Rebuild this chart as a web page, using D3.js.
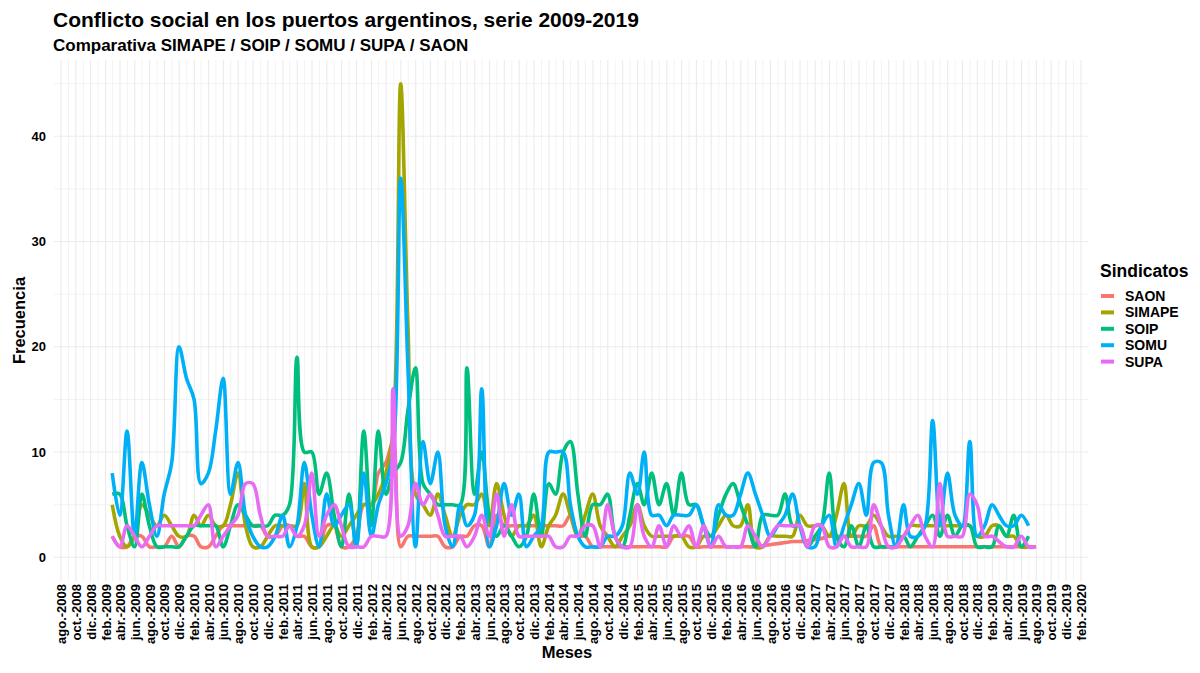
<!DOCTYPE html>
<html>
<head>
<meta charset="utf-8">
<script src="https://cdn.jsdelivr.net/npm/d3@7"></script>
<style>
  body { margin: 0; background: #fff; }
  text { font-family: "Liberation Sans", Arial, sans-serif; }
</style>
</head>
<body>
<div id="chart"></div>
<script>
// monthly counts, feb-2009 .. jul-2019 (null = no data)
var first_month = [2009, 1];

var saon = [2,1,1,2,2,1,1,1,2,1, 2,2,1,1,2,3,3,3,3,3, 3,2,2,3,3,2,2,1,1,3,
  3,1,1,2,5,5,8,9,11,1, 2,2,2,2,2,1,1,2,2,3, 3,1,4,3,3,3,3,3,3,3,
  3,3,4,2,2,1,1,1,1,1, 1,1,1,1,1,1,2,2,2,1, 1,1,1,1,1,1,1,1,1.1,1.2,
  1.3,1.4,1.5,1.5,1.6,1.7,1.8,2,2,2, 2,2,2,3,1,1,1,1,1,1, 1,1,1,1,1,1,1,1,1,1,
  1,1,1,1,1,1];
var simape = [5,2,1,2,5,4,3,4,3,2, 2,4,3,4,3,3,5,8,3,1, 1,2,3,3,3,3,7,1,1,2,
  3,2,3,4,5,5,6,8,12,45, 22,6,5,4,6,4,2,4,5,5, 6,3,7,4,2,3,3,4,1,3,
  4,6,4,2,4,6,3,2,1,2, 3,5,3,2,2,2,2,2,1,1, 2,2,3,4,3,3,5,1,1,2,
  2,2,2,4,3,3,3,2,4,7, 2,3,3,4,3,2,2,2,3,3, 3,3,3,3,3,3,3,2,2,3,
  3,2,2,1,1,null];
var soip = [6,6,3,1,6,3,1,1,1,1, 2,3,3,3,3,1,3,5,4,3, 3,3,4,4,5,19,10,10,6,8,
  4,1,6,1,12,3,12,6,8,9, 14,18,7,6,5,5,5,5,18,6, 10,4,2,3,2,1,2,6,2,7,
  6,10,11,6,2,5,5,6,2,1, 4,7,5,8,5,7,4,8,5,5, 3,2,4,6,7,5,3,1,4,4,
  4,6,3,3,1,2,3,8,2,1, 3,1,3,1,1,1,1,2,1,2, 3,4,2,4,2,3,3,1,1,1,
  3,2,4,1,2,null];
var somu = [8,4,12,2,9,5,2,6,9,20, 17,15,7,8,12,17,6,9,4,2, 1,1,2,4,1,3,9,4,1,6,
  3,4,5,1,8,2,5,7,10,36, 18,1,11,7,10,3,1,5,3,4, 16,1,3,7,4,6,1,2,3,10,
  10,10,5,2,1,1,1,2,2,3, 8,6,10,4,4,3,4,4,4,5, 3,1,5,4,4,6,8,6,4,2,
  3,4,6,3,1,1,3,4,1,3, 5,7,4,9,9,4,1,5,2,2, 3,13,3,8,4,3,11,2,3,5,
  4,3,3,4,3,null];
var supa = [2,1,3,2,1,2,3,3,3,3, 3,3,4,5,1,2,3,4,7,7, 4,2,2,2,3,2,3,8,2,4,
  5,3,1,1,1,2,2,2,16,2, 3,7,5,6,4,2,2,2,1,2, 4,2,6,2,5,2,2,2,2,2,
  1,1,2,2,3,3,1,5,2,1, 1,5,2,1,3,1,3,2,3,1, 3,1,2,1,1,1,3,2,1,2,
  3,3,3,3,1,3,3,1,1,2, 1,1,1,5,3,1,1,2,3,4, 2,1,7,2,2,2,6,5,2,2,
  1.5,1,1,2,1,1];

var series_names = ['SAON', 'SIMAPE', 'SOIP', 'SOMU', 'SUPA'];
var series_values = [saon, simape, soip, somu, supa];
var series_colors = ['#F8766D', '#A3A500', '#00BF7D', '#00B0F6', '#E76BF3'];
var month_abbr = ['ene.', 'feb.', 'mar.', 'abr.', 'may.', 'jun.', 'jul.', 'ago.', 'sept.', 'oct.', 'nov.', 'dic.'];
var y_ticks = [0, 10, 20, 30, 40];
var y_minor = [5, 15, 25, 35, 45];

var width = 1200, height = 673;
var panel = {left: 54, right: 1088, top: 60, bottom: 581};

var svg = d3.select('#chart').append('svg')
    .attr('width', width)
    .attr('height', height)
    .style('background', '#fff');

var x = d3.scaleUtc()
    .domain([Date.UTC(2008, 7, 1), Date.UTC(2020, 1, 1)])
    .range([61, 1081]);
var y = d3.scaleLinear()
    .domain([-2.25, 47.25])
    .range([panel.bottom, panel.top]);

// month end dates for each observation
function obs_date(i){
  return new Date(Date.UTC(first_month[0], first_month[1] + i + 1, 0));
}

// grid
var grid = svg.append('g');
y_minor.forEach(function(v){
  grid.append('line')
      .attr('x1', panel.left).attr('x2', panel.right)
      .attr('y1', y(v)).attr('y2', y(v))
      .attr('stroke', '#ebebeb').attr('stroke-width', 0.6);
});
y_ticks.forEach(function(v){
  grid.append('line')
      .attr('x1', panel.left).attr('x2', panel.right)
      .attr('y1', y(v)).attr('y2', y(v))
      .attr('stroke', '#ebebeb').attr('stroke-width', 1.1);
});
var grid_months = d3.utcMonth.range(new Date(Date.UTC(2008, 6, 1)), new Date(Date.UTC(2020, 4, 1)))
    .filter(function(d){ return x(d) >= panel.left && x(d) <= panel.right; });
grid_months.forEach(function(d){
  var major = d.getUTCMonth() % 2 === 1;
  grid.append('line')
      .attr('x1', x(d)).attr('x2', x(d))
      .attr('y1', panel.top).attr('y2', panel.bottom)
      .attr('stroke', '#ebebeb')
      .attr('stroke-width', major ? 1.1 : 0.6);
});

// axes
var x_ticks = grid_months.filter(function(d){ return d.getUTCMonth() % 2 === 1; });
var x_axis = svg.append('g')
    .attr('transform', 'translate(0,' + panel.bottom + ')')
    .call(d3.axisBottom(x).tickValues(x_ticks).tickSize(0)
      .tickFormat(function(d){ return month_abbr[d.getUTCMonth()] + '-' + d.getUTCFullYear(); }));
x_axis.select('.domain').remove();
x_axis.selectAll('text')
    .attr('transform', 'rotate(-90)')
    .attr('text-anchor', 'end')
    .attr('x', -3)
    .attr('y', 0)
    .attr('dy', '0.35em')
    .style('font-size', '13px')
    .style('font-weight', 'bold')
    .attr('fill', '#000');

var y_axis = svg.append('g')
    .attr('transform', 'translate(' + panel.left + ',0)')
    .call(d3.axisLeft(y).tickValues(y_ticks).tickSize(0).tickPadding(8));
y_axis.select('.domain').remove();
y_axis.selectAll('text')
    .style('font-size', '13px')
    .style('font-weight', 'bold')
    .attr('fill', '#000');

// lines
var line = d3.line()
    .defined(function(d){ return d.v !== null; })
    .x(function(d){ return x(d.date); })
    .y(function(d){ return y(d.v); })
    .curve(d3.curveCatmullRom.alpha(0.5));

series_values.forEach(function(vals, k){
  var pts = vals.map(function(v, i){ return {date: obs_date(i), v: v}; });
  svg.append('path')
      .datum(pts)
      .attr('fill', 'none')
      .attr('stroke', series_colors[k])
      .attr('stroke-width', 3.6)
      .attr('stroke-linejoin', 'round')
      .attr('d', line);
});

// titles
svg.append('text')
    .attr('x', 53).attr('y', 27)
    .style('font-size', '21px').style('font-weight', 'bold')
    .text('Conflicto social en los puertos argentinos, serie 2009-2019');
svg.append('text')
    .attr('x', 53).attr('y', 51)
    .style('font-size', '17px').style('font-weight', 'bold')
    .text('Comparativa SIMAPE / SOIP / SOMU / SUPA / SAON');
svg.append('text')
    .attr('transform', 'translate(25,' + ((panel.top + panel.bottom) / 2) + ') rotate(-90)')
    .attr('text-anchor', 'middle')
    .style('font-size', '16.5px').style('font-weight', 'bold')
    .text('Frecuencia');
svg.append('text')
    .attr('x', 567).attr('y', 658)
    .attr('text-anchor', 'middle')
    .style('font-size', '16.5px').style('font-weight', 'bold')
    .text('Meses');

// legend
var legend = svg.append('g').attr('transform', 'translate(1100,0)');
legend.append('text')
    .attr('x', 0).attr('y', 277)
    .style('font-size', '17.5px').style('font-weight', 'bold')
    .text('Sindicatos');
series_names.forEach(function(name, k){
  var ly = 296 + 16.4 * k;
  legend.append('line')
      .attr('x1', 1).attr('x2', 14)
      .attr('y1', ly).attr('y2', ly)
      .attr('stroke', series_colors[k]).attr('stroke-width', 4);
  legend.append('text')
      .attr('x', 25).attr('y', ly).attr('dy', '0.35em')
      .style('font-size', '14px').style('font-weight', 'bold')
      .text(name);
});
</script>
</body>
</html>
